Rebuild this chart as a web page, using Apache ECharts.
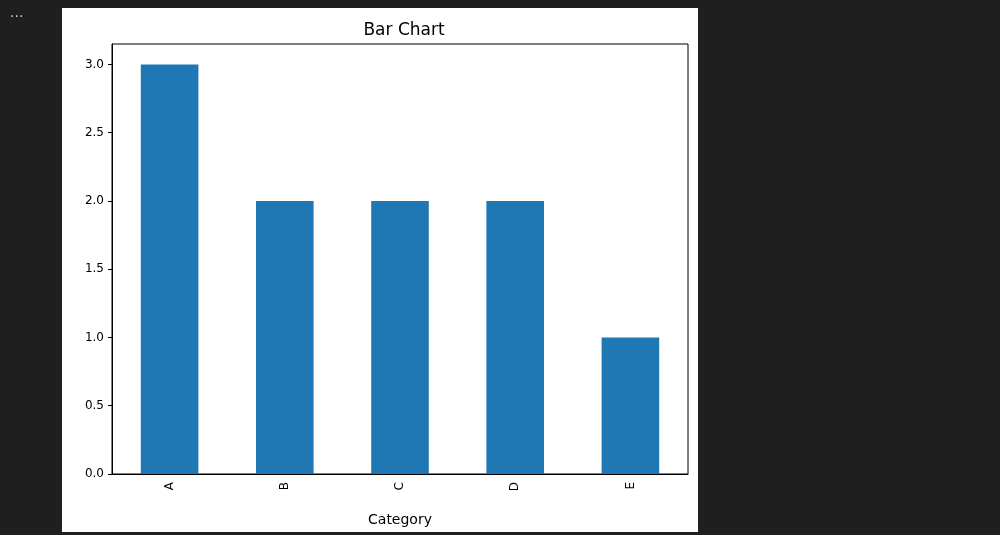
<!DOCTYPE html>
<html><head><meta charset="utf-8">
<script src="https://cdn.jsdelivr.net/npm/echarts@6/dist/echarts.min.js"></script>
<style>html,body{margin:0;padding:0;background:#1f1f1f;}#c{width:1000px;height:535px;}</style>
</head><body><div id="c"></div>
<script>
const categories = ['A','B','C','D','E'];
const values = [3, 2, 2, 2, 1];
const chart = echarts.init(document.getElementById('c'));
chart.setOption({
  backgroundColor: '#1f1f1f',
  animation: false,
  graphic: [
    {type:'rect', shape:{x:62,y:8,width:636,height:524}, style:{fill:'#ffffff'}, z:-10},
    {type:'text', left:10, top:6, style:{text:'...', fill:'#cccccc', font:'14px DejaVu Sans'}}
  ],
  title: {text:'Bar Chart', left:399, top:17, textAlign:'center',
    textStyle:{fontFamily:'DejaVu Sans', fontSize:17, fontWeight:'normal', color:'#000'}},
  grid: {left:112, top:44, width:576, height:430, show:true, borderColor:'#000', borderWidth:1, backgroundColor:'transparent'},
  xAxis: {type:'category', data:categories, name:'Category', nameLocation:'middle', nameGap:39,
    nameTextStyle:{fontFamily:'DejaVu Sans', fontSize:14, color:'#000'},
    axisLine:{lineStyle:{color:'#000'}}, axisTick:{alignWithLabel:true, length:4, lineStyle:{color:'#000'}},
    axisLabel:{rotate:90, color:'#000', fontFamily:'DejaVu Sans', fontSize:12, margin:8}},
  yAxis: {type:'value', min:0, max:3.15, interval:0.5,
    splitLine:{show:false}, axisLine:{show:true, lineStyle:{color:'#000'}},
    axisTick:{show:true, length:4, lineStyle:{color:'#000'}},
    axisLabel:{color:'#000', fontFamily:'DejaVu Sans', fontSize:12, margin:8,
      formatter:v=>v.toFixed(1), showMaxLabel:false}},
  series: [{type:'bar', data:values, barWidth:'50%', itemStyle:{color:'#1f77b4'}}]
});
</script></body></html>
